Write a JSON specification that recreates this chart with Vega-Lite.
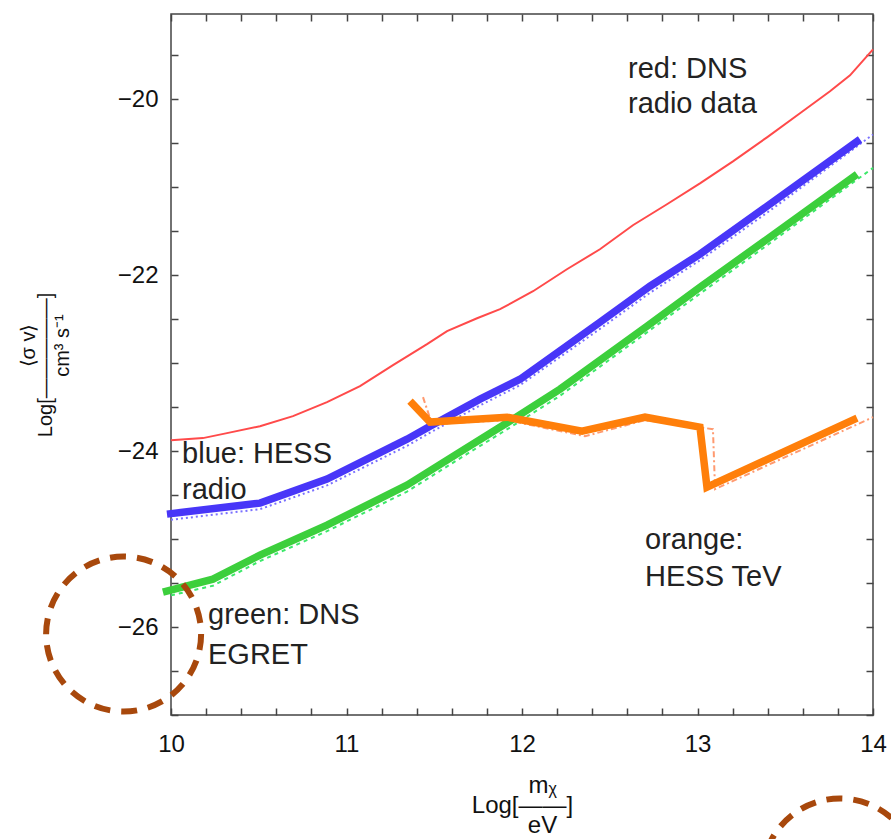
{
  "$schema": "https://vega.github.io/schema/vega-lite/v6.json",
  "width": 702,
  "height": 701,
  "autosize": "none",
  "padding": {"left": 171, "top": 14, "right": 18, "bottom": 124},
  "background": "white",
  "config": {"view": {"stroke": "#444444", "strokeWidth": 1.5}, "font": "Liberation Sans"},
  "datasets": {
    "curves": [
      {"series": "red", "x": 10.000, "y": -23.875}, {"series": "red", "x": 10.182, "y": -23.852}, {"series": "red", "x": 10.319, "y": -23.795}, {"series": "red", "x": 10.507, "y": -23.716}, {"series": "red", "x": 10.695, "y": -23.602}, {"series": "red", "x": 10.889, "y": -23.443}, {"series": "red", "x": 11.077, "y": -23.261}, {"series": "red", "x": 11.265, "y": -23.023}, {"series": "red", "x": 11.459, "y": -22.784}, {"series": "red", "x": 11.573, "y": -22.636}, {"series": "red", "x": 11.744, "y": -22.489}, {"series": "red", "x": 11.875, "y": -22.386}, {"series": "red", "x": 12.063, "y": -22.182}, {"series": "red", "x": 12.256, "y": -21.932}, {"series": "red", "x": 12.444, "y": -21.705}, {"series": "red", "x": 12.632, "y": -21.432}, {"series": "red", "x": 12.826, "y": -21.193}, {"series": "red", "x": 13.014, "y": -20.955}, {"series": "red", "x": 13.202, "y": -20.705}, {"series": "red", "x": 13.396, "y": -20.432}, {"series": "red", "x": 13.584, "y": -20.159}, {"series": "red", "x": 13.755, "y": -19.909}, {"series": "red", "x": 13.869, "y": -19.727}, {"series": "red", "x": 14.000, "y": -19.432},
      {"series": "blue_dot", "x": 10.0, "y": -24.78}, {"series": "blue_dot", "x": 10.507, "y": -24.66}, {"series": "blue_dot", "x": 10.889, "y": -24.39}, {"series": "blue_dot", "x": 11.345, "y": -23.94}, {"series": "blue_dot", "x": 11.476, "y": -23.79}, {"series": "blue_dot", "x": 11.761, "y": -23.48}, {"series": "blue_dot", "x": 11.989, "y": -23.25}, {"series": "blue_dot", "x": 12.444, "y": -22.61}, {"series": "blue_dot", "x": 12.729, "y": -22.20}, {"series": "blue_dot", "x": 13.014, "y": -21.83}, {"series": "blue_dot", "x": 13.396, "y": -21.29}, {"series": "blue_dot", "x": 14.0, "y": -20.40},
      {"series": "green_dash", "x": 10.0, "y": -25.64}, {"series": "green_dash", "x": 10.239, "y": -25.53}, {"series": "green_dash", "x": 10.507, "y": -25.25}, {"series": "green_dash", "x": 10.889, "y": -24.91}, {"series": "green_dash", "x": 11.345, "y": -24.46}, {"series": "green_dash", "x": 11.664, "y": -24.06}, {"series": "green_dash", "x": 11.949, "y": -23.71}, {"series": "green_dash", "x": 12.217, "y": -23.37}, {"series": "green_dash", "x": 12.712, "y": -22.65}, {"series": "green_dash", "x": 13.014, "y": -22.21}, {"series": "green_dash", "x": 13.396, "y": -21.66}, {"series": "green_dash", "x": 14.0, "y": -20.78},
      {"series": "orange_dd", "x": 11.436, "y": -23.386}, {"series": "orange_dd", "x": 11.487, "y": -23.693}, {"series": "orange_dd", "x": 11.915, "y": -23.648}, {"series": "orange_dd", "x": 12.359, "y": -23.830}, {"series": "orange_dd", "x": 12.701, "y": -23.648}, {"series": "orange_dd", "x": 13.088, "y": -23.750}, {"series": "orange_dd", "x": 13.100, "y": -24.432}, {"series": "orange_dd", "x": 14.0, "y": -23.614},
      {"series": "blue", "x": 9.977, "y": -24.716}, {"series": "blue", "x": 10.507, "y": -24.591}, {"series": "blue", "x": 10.889, "y": -24.318}, {"series": "blue", "x": 11.345, "y": -23.864}, {"series": "blue", "x": 11.476, "y": -23.716}, {"series": "blue", "x": 11.761, "y": -23.409}, {"series": "blue", "x": 11.989, "y": -23.182}, {"series": "blue", "x": 12.444, "y": -22.534}, {"series": "blue", "x": 12.729, "y": -22.125}, {"series": "blue", "x": 13.014, "y": -21.76}, {"series": "blue", "x": 13.396, "y": -21.216}, {"series": "blue", "x": 13.926, "y": -20.455},
      {"series": "green", "x": 9.954, "y": -25.602}, {"series": "green", "x": 10.239, "y": -25.455}, {"series": "green", "x": 10.507, "y": -25.182}, {"series": "green", "x": 10.889, "y": -24.841}, {"series": "green", "x": 11.345, "y": -24.386}, {"series": "green", "x": 11.664, "y": -23.989}, {"series": "green", "x": 11.949, "y": -23.636}, {"series": "green", "x": 12.217, "y": -23.295}, {"series": "green", "x": 12.712, "y": -22.580}, {"series": "green", "x": 13.014, "y": -22.136}, {"series": "green", "x": 13.396, "y": -21.591}, {"series": "green", "x": 13.909, "y": -20.852},
      {"series": "orange", "x": 11.362, "y": -23.432}, {"series": "orange", "x": 11.476, "y": -23.670}, {"series": "orange", "x": 11.915, "y": -23.614}, {"series": "orange", "x": 12.342, "y": -23.773}, {"series": "orange", "x": 12.701, "y": -23.614}, {"series": "orange", "x": 13.014, "y": -23.727}, {"series": "orange", "x": 13.054, "y": -24.409}, {"series": "orange", "x": 13.909, "y": -23.625}
    ],
    "labels": [
      {"label": "red: DNS", "x": 12.604, "y": -19.76},
      {"label": "radio data", "x": 12.604, "y": -20.15},
      {"label": "blue: HESS", "x": 10.063, "y": -24.13},
      {"label": "radio", "x": 10.063, "y": -24.545},
      {"label": "green: DNS", "x": 10.211, "y": -25.966},
      {"label": "EGRET", "x": 10.211, "y": -26.42},
      {"label": "orange:", "x": 12.701, "y": -25.114},
      {"label": "HESS TeV", "x": 12.701, "y": -25.534}
    ],
    "circles": [
      {"x": 9.73, "y": -26.08},
      {"x": 13.812, "y": -28.83}
    ]
  },
  "layer": [
    {
      "data": {"name": "curves"},
      "transform": [{"filter": "datum.series === 'blue_dot'"}],
      "mark": {"type": "line", "color": "#7a70ff", "strokeWidth": 2, "strokeDash": [2, 3], "clip": false},
      "encoding": {
        "x": {"field": "x", "type": "quantitative", "scale": {"domain": [10, 14], "nice": false, "zero": false},
          "axis": {"orient": "bottom", "values": [10, 10.2, 10.4, 10.6, 10.8, 11, 11.2, 11.4, 11.6, 11.8, 12, 12.2, 12.4, 12.6, 12.8, 13, 13.2, 13.4, 13.6, 13.8, 14],
            "tickCount": 200, "tickMinStep": 0.1, "labelExpr": "abs(datum.value - round(datum.value)) < 0.001 ? format(datum.value, 'd') : ''", "domain": false, "grid": false,
            "tickColor": "#444444", "tickWidth": 1.5, "tickSize": -7, "labelPadding": 24, "labelFontSize": 24, "labelColor": "#111111", "labelFont": "Liberation Sans",
            "labelOverlap": false, "labelFlush": false, "labelBound": false,
            "title": ["\u200b\u00a0\u00a0\u00a0\u00a0\u00a0\u00a0m\u1d6a", "Log[\u2014\u2014]", "\u200b\u00a0\u00a0\u00a0\u00a0\u00a0\u00a0eV"],
            "titleFont": "Liberation Sans", "titleFontSize": 24, "titleFontWeight": "normal", "titleColor": "#111111", "titlePadding": 17, "titleLineHeight": 20}},
        "y": {"field": "y", "type": "quantitative", "scale": {"domain": [-27, -19.03], "nice": false, "zero": false},
          "axis": {"orient": "left", "values": [-27, -26.5, -26, -25.5, -25, -24.5, -24, -23.5, -23, -22.5, -22, -21.5, -21, -20.5, -20, -19.5],
            "tickCount": 200, "tickMinStep": 0.1, "labelExpr": "datum.value % 2 === 0 ? format(datum.value, 'd') : ''", "domain": false, "grid": false,
            "tickColor": "#444444", "tickWidth": 1.5, "tickSize": -7, "labelPadding": 20, "labelFontSize": 24, "labelColor": "#111111", "labelFont": "Liberation Sans",
            "labelOverlap": false, "labelFlush": false, "labelBound": false,
            "title": ["\u200b\u00a0\u00a0\u00a0\u00a0\u00a0\u00a0\u00a0\u27e8\u03c3 v\u27e9", "Log[\u2014\u2014\u2014\u2014\u2014]", "\u200b\u00a0\u00a0\u00a0\u00a0\u00a0\u00a0\u00a0cm\u00b3 s\u207b\u00b9"],
            "titleFont": "Liberation Sans", "titleFontSize": 20, "titleFontWeight": "normal", "titleColor": "#111111", "titlePadding": 45, "titleLineHeight": 17}}
      }
    },
    {
      "data": {"name": "curves"},
      "transform": [{"filter": "datum.series === 'green_dash'"}],
      "mark": {"type": "line", "color": "#3de86a", "strokeWidth": 2, "strokeDash": [4, 4], "clip": false},
      "encoding": {
        "x": {"field": "x", "type": "quantitative", "scale": {"domain": [10, 14], "nice": false, "zero": false}, "axis": null},
        "y": {"field": "y", "type": "quantitative", "scale": {"domain": [-27, -19.03], "nice": false, "zero": false}, "axis": null}
      }
    },
    {
      "data": {"name": "curves"},
      "transform": [{"filter": "datum.series === 'orange_dd'"}],
      "mark": {"type": "line", "color": "#ff9a70", "strokeWidth": 2, "strokeDash": [6, 3, 2, 3], "clip": false},
      "encoding": {
        "x": {"field": "x", "type": "quantitative", "scale": {"domain": [10, 14], "nice": false, "zero": false}, "axis": null},
        "y": {"field": "y", "type": "quantitative", "scale": {"domain": [-27, -19.03], "nice": false, "zero": false}, "axis": null}
      }
    },
    {
      "data": {"name": "curves"},
      "transform": [{"filter": "datum.series === 'red'"}],
      "mark": {"type": "line", "color": "#ff4a4a", "strokeWidth": 2, "clip": false},
      "encoding": {
        "x": {"field": "x", "type": "quantitative", "scale": {"domain": [10, 14], "nice": false, "zero": false}, "axis": null},
        "y": {"field": "y", "type": "quantitative", "scale": {"domain": [-27, -19.03], "nice": false, "zero": false}, "axis": null}
      }
    },
    {
      "data": {"name": "curves"},
      "transform": [{"filter": "datum.series === 'blue'"}],
      "mark": {"type": "line", "color": "#4836f8", "strokeWidth": 7.5, "clip": false},
      "encoding": {
        "x": {"field": "x", "type": "quantitative", "scale": {"domain": [10, 14], "nice": false, "zero": false}, "axis": null},
        "y": {"field": "y", "type": "quantitative", "scale": {"domain": [-27, -19.03], "nice": false, "zero": false}, "axis": null}
      }
    },
    {
      "data": {"name": "curves"},
      "transform": [{"filter": "datum.series === 'green'"}],
      "mark": {"type": "line", "color": "#3ccf3c", "strokeWidth": 7.5, "clip": false},
      "encoding": {
        "x": {"field": "x", "type": "quantitative", "scale": {"domain": [10, 14], "nice": false, "zero": false}, "axis": null},
        "y": {"field": "y", "type": "quantitative", "scale": {"domain": [-27, -19.03], "nice": false, "zero": false}, "axis": null}
      }
    },
    {
      "data": {"name": "curves"},
      "transform": [{"filter": "datum.series === 'orange'"}],
      "mark": {"type": "line", "color": "#ff7f0a", "strokeWidth": 7.5, "clip": false},
      "encoding": {
        "x": {"field": "x", "type": "quantitative", "scale": {"domain": [10, 14], "nice": false, "zero": false}, "axis": null},
        "y": {"field": "y", "type": "quantitative", "scale": {"domain": [-27, -19.03], "nice": false, "zero": false}, "axis": null}
      }
    },
    {
      "data": {"name": "labels"},
      "mark": {"type": "text", "align": "left", "baseline": "alphabetic", "font": "Liberation Sans", "fontSize": 29, "color": "#222222", "clip": false},
      "encoding": {
        "x": {"field": "x", "type": "quantitative", "scale": {"domain": [10, 14], "nice": false, "zero": false},
          "axis": {"orient": "top", "values": [10, 10.2, 10.4, 10.6, 10.8, 11, 11.2, 11.4, 11.6, 11.8, 12, 12.2, 12.4, 12.6, 12.8, 13, 13.2, 13.4, 13.6, 13.8, 14],
            "tickCount": 200, "tickMinStep": 0.1, "labels": false, "domain": false, "grid": false, "title": null, "tickColor": "#444444", "tickWidth": 1.5, "tickSize": -7}},
        "y": {"field": "y", "type": "quantitative", "scale": {"domain": [-27, -19.03], "nice": false, "zero": false},
          "axis": {"orient": "right", "values": [-27, -26.5, -26, -25.5, -25, -24.5, -24, -23.5, -23, -22.5, -22, -21.5, -21, -20.5, -20, -19.5],
            "tickCount": 200, "tickMinStep": 0.1, "labels": false, "domain": false, "grid": false, "title": null, "tickColor": "#444444", "tickWidth": 1.5, "tickSize": -7}},
        "text": {"field": "label", "type": "nominal"}
      }
    },
    {
      "data": {"name": "circles"},
      "mark": {"type": "point", "shape": "circle", "filled": false, "size": 24025, "stroke": "#a8480c", "strokeWidth": 6, "strokeDash": [16, 11], "opacity": 1, "clip": false},
      "encoding": {
        "x": {"field": "x", "type": "quantitative", "scale": {"domain": [10, 14], "nice": false, "zero": false}, "axis": null},
        "y": {"field": "y", "type": "quantitative", "scale": {"domain": [-27, -19.03], "nice": false, "zero": false}, "axis": null}
      }
    }
  ],
  "resolve": {"axis": {"x": "independent", "y": "independent"}}
}
